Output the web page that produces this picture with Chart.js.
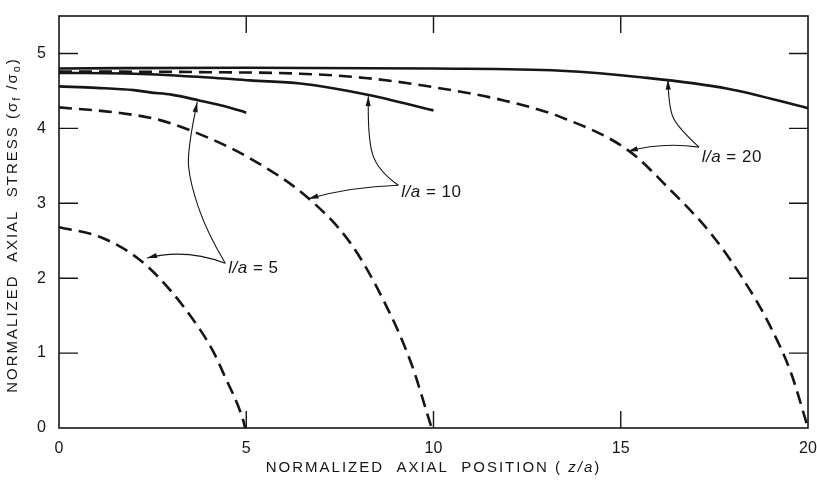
<!DOCTYPE html>
<html>
<head>
<meta charset="utf-8">
<script src="https://cdn.jsdelivr.net/npm/chart.js@4.4.1/dist/chart.umd.min.js"></script>
<style>
  html, body { margin: 0; padding: 0; background: #fff; }
</style>
</head>
<body>
<canvas id="chart" width="817" height="480"></canvas>
<script>
// tick values
const xTicks = [0, 5, 10, 15, 20];
const yTicks = [0, 1, 2, 3, 4, 5];

// l/a = 5
const solid5X = [0, 1, 2, 2.43, 3, 3.77, 4.4, 5];
const solid5Y = [4.56, 4.54, 4.51, 4.48, 4.45, 4.37, 4.3, 4.21];
const dashed5X = [0, 1.1, 2.17, 2.97, 3.77, 4.12, 4.39, 4.92, 4.97];
const dashed5Y = [2.68, 2.55, 2.24, 1.84, 1.31, 1.02, 0.73, 0.1, 0];

// l/a = 10
const solid10X = [0, 2, 4, 5.1, 6.44, 8.24, 10];
const solid10Y = [4.74, 4.73, 4.68, 4.64, 4.6, 4.45, 4.24];
const dashed10X = [0, 1.55, 2.7, 3.96, 5.1, 6.63, 7.78, 8.66, 9.4, 9.95];
const dashed10Y = [4.28, 4.21, 4.11, 3.88, 3.6, 3.08, 2.47, 1.71, 0.87, 0];

// l/a = 20
const solid20X = [0, 5, 10, 13.4, 15.6, 17.86, 20];
const solid20Y = [4.8, 4.81, 4.8, 4.77, 4.68, 4.53, 4.27];
const dashed20X = [0, 4, 6.44, 8.24, 10, 11.9, 13.4, 15.19, 16.34, 17.4, 18.29, 19.0, 19.55, 20];
const dashed20Y = [4.76, 4.75, 4.73, 4.67, 4.55, 4.37, 4.15, 3.71, 3.17, 2.6, 1.97, 1.35, 0.73, 0];

const labels = ['5', '10', '20'];

// annotation anchors, in data units
const labelAt = [[4.52, 2.13], [9.14, 3.15], [17.16, 3.61]];
const arrows = [
  [[4.44, 2.2], [3.37, 2.4], [2.35, 2.27]],
  [[4.44, 2.2], [3.96, 2.6], [3.5, 3.27], [3.42, 3.71], [3.69, 4.35]],
  [[9.06, 3.24], [7.78, 3.22], [6.66, 3.06]],
  [[9.06, 3.24], [8.5, 3.44], [8.24, 3.88], [8.26, 4.43]],
  [[17.09, 3.75], [16.07, 3.82], [15.19, 3.69]],
  [[17.09, 3.75], [16.52, 4.01], [16.28, 4.28], [16.26, 4.65]]
];

const pts = (xs, ys) => xs.map((x, i) => ({ x: x, y: ys[i] }));
const INK = '#161616';
const FONT = '"Liberation Sans", Arial, sans-serif';

function line(xs, ys, dashed) {
  return {
    data: pts(xs, ys),
    borderColor: INK,
    borderWidth: 2.6,
    borderDash: dashed ? [13, 7] : [],
    pointRadius: 0,
    cubicInterpolationMode: 'monotone',
    fill: false
  };
}

// draws text runs: [text, italic, sub]
function rich(ctx, runs, x, y, size, align) {
  const widths = runs.map(r => {
    ctx.font = (r[1] ? 'italic ' : '') + (r[2] ? size * 0.72 : size) + 'px ' + FONT;
    return ctx.measureText(r[0]).width;
  });
  const total = widths.reduce((a, b) => a + b, 0);
  let cx = align === 'center' ? x - total / 2 : x;
  runs.forEach((r, i) => {
    ctx.font = (r[1] ? 'italic ' : '') + (r[2] ? size * 0.72 : size) + 'px ' + FONT;
    ctx.fillText(r[0], cx, r[2] ? y + size * 0.3 : y);
    cx += widths[i];
  });
}

const decor = {
  id: 'decor',
  afterDatasetsDraw(chart) {
    const ctx = chart.ctx;
    const a = chart.chartArea;
    const xs = chart.scales.x, ys = chart.scales.y;
    ctx.save();
    ctx.strokeStyle = INK;
    ctx.fillStyle = INK;

    // frame
    ctx.lineWidth = 1.6;
    ctx.setLineDash([]);
    ctx.strokeRect(a.left, a.top, a.right - a.left, a.bottom - a.top);

    // inward ticks on all four sides
    ctx.lineWidth = 1.4;
    ctx.beginPath();
    xTicks.slice(1, -1).forEach(v => {
      const p = xs.getPixelForValue(v);
      ctx.moveTo(p, a.bottom); ctx.lineTo(p, a.bottom - 17);
      ctx.moveTo(p, a.top); ctx.lineTo(p, a.top + 17);
    });
    yTicks.slice(1).forEach(v => {
      const p = ys.getPixelForValue(v);
      ctx.moveTo(a.left, p); ctx.lineTo(a.left + 19, p);
      ctx.moveTo(a.right, p); ctx.lineTo(a.right - 19, p);
    });
    ctx.stroke();

    // arrows
    ctx.lineWidth = 1.1;
    arrows.forEach(path => {
      const p = path.map(q => [xs.getPixelForValue(q[0]), ys.getPixelForValue(q[1])]);
      ctx.beginPath();
      ctx.moveTo(p[0][0], p[0][1]);
      for (let i = 1; i < p.length - 1; i++) {
        const last = i === p.length - 2;
        const ex = last ? p[i + 1][0] : (p[i][0] + p[i + 1][0]) / 2;
        const ey = last ? p[i + 1][1] : (p[i][1] + p[i + 1][1]) / 2;
        ctx.quadraticCurveTo(p[i][0], p[i][1], ex, ey);
      }
      ctx.stroke();
      const t = p[p.length - 1], s = p[p.length - 2];
      const ang = Math.atan2(t[1] - s[1], t[0] - s[0]);
      ctx.beginPath();
      ctx.moveTo(t[0], t[1]);
      ctx.lineTo(t[0] - 10 * Math.cos(ang) + 2.6 * Math.sin(ang), t[1] - 10 * Math.sin(ang) - 2.6 * Math.cos(ang));
      ctx.lineTo(t[0] - 10 * Math.cos(ang) - 2.6 * Math.sin(ang), t[1] - 10 * Math.sin(ang) + 2.6 * Math.cos(ang));
      ctx.closePath();
      ctx.fill();
    });

    // curve labels
    ctx.textBaseline = 'middle';
    ctx.textAlign = 'left';
    ctx.letterSpacing = '0.5px';
    labelAt.forEach((q, i) => {
      rich(ctx, [['l/a', true], [' = ' + labels[i], false]],
        xs.getPixelForValue(q[0]), ys.getPixelForValue(q[1]), 17, 'left');
    });

    // axis titles
    ctx.letterSpacing = '2px';
    rich(ctx, [['NORMALIZED  AXIAL  POSITION ( ', false], ['z/a', true], [')', false]],
      (a.left + a.right) / 2, 468, 15, 'center');
    ctx.translate(13, (a.top + a.bottom) / 2 + 3);
    ctx.rotate(-Math.PI / 2);
    rich(ctx, [['NORMALIZED  AXIAL  STRESS (σ', false], ['f', false, true], [' /σ', false], ['o', false, true], [')', false]],
      0, 0, 15, 'center');
    ctx.restore();
  }
};

new Chart(document.getElementById('chart'), {
  type: 'line',
  data: {
    datasets: [
      line(solid5X, solid5Y, false),
      line(dashed5X, dashed5Y, true),
      line(solid10X, solid10Y, false),
      line(dashed10X, dashed10Y, true),
      line(solid20X, solid20Y, false),
      line(dashed20X, dashed20Y, true)
    ]
  },
  options: {
    responsive: false,
    animation: false,
    devicePixelRatio: 1,
    layout: { padding: { top: 16, right: 9, left: 0, bottom: 0 } },
    plugins: { legend: { display: false }, tooltip: { enabled: false } },
    scales: {
      x: {
        type: 'linear', min: 0, max: 20,
        afterBuildTicks: s => { s.ticks = xTicks.map(v => ({ value: v })); },
        afterFit: s => { s.height = 52; s.paddingLeft = 0; s.paddingRight = 0; },
        grid: { display: false, drawTicks: false },
        border: { display: false },
        ticks: { color: INK, padding: 11, maxRotation: 0, font: { family: FONT, size: 16 } }
      },
      y: {
        type: 'linear', min: 0, max: 5.5,
        afterBuildTicks: s => { s.ticks = yTicks.map(v => ({ value: v })); },
        afterFit: s => { s.width = 59; s.paddingTop = 0; s.paddingBottom = 0; },
        grid: { display: false, drawTicks: false },
        border: { display: false },
        ticks: { color: INK, padding: 13, font: { family: FONT, size: 16 } }
      }
    }
  },
  plugins: [decor]
});
</script>
</body>
</html>
